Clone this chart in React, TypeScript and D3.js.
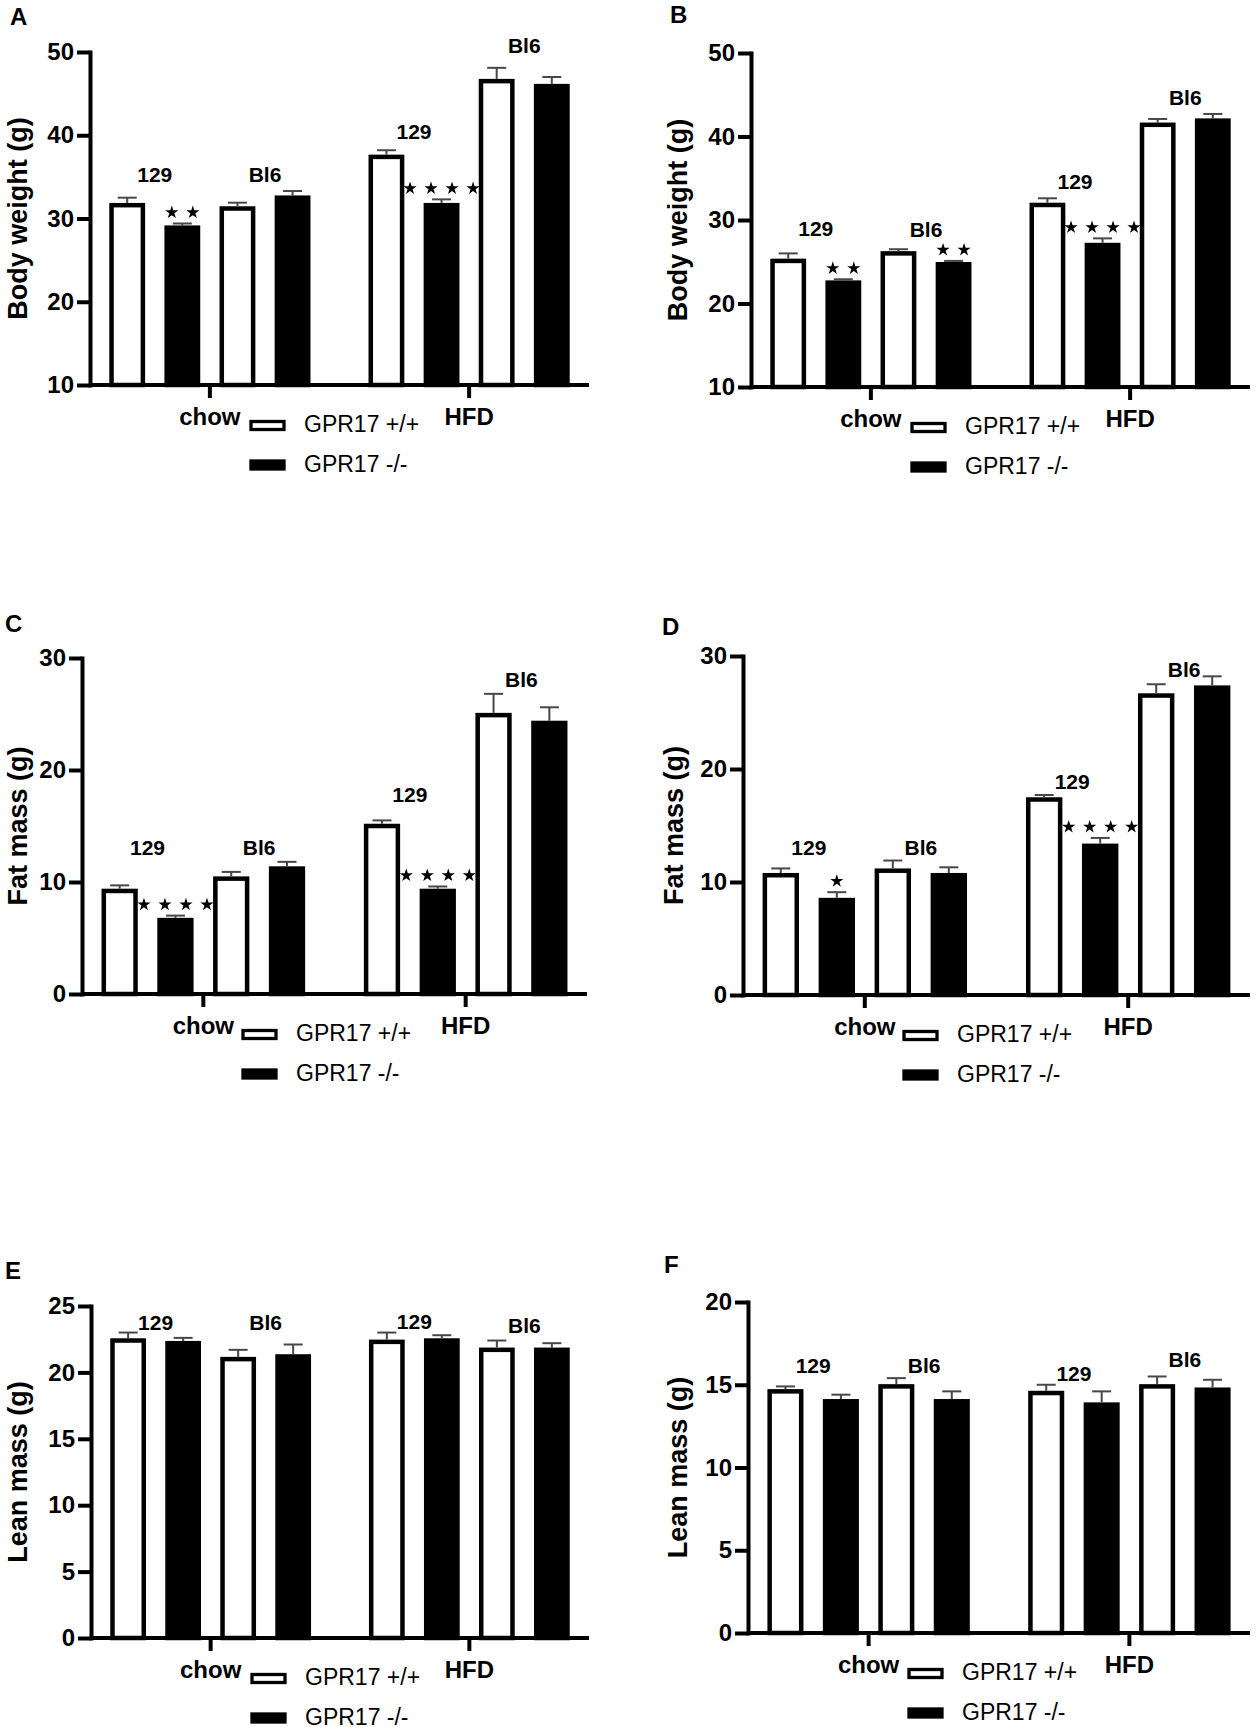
import React, { useRef, useEffect } from "react";
import * as d3 from "d3";

const groups = ["chow", "HFD"];
const strains = ["129", "Bl6"];
const genotypes = ["GPR17 +/+", "GPR17 -/-"];

// order of every value array: chow-129, chow-Bl6, HFD-129, HFD-Bl6
const bodyWeightA_WT = [31.6, 31.2, 37.4, 46.5];
const bodyWeightA_WTsem = [0.9, 0.7, 0.8, 1.6];
const bodyWeightA_KO = [28.9, 32.5, 31.6, 45.9];
const bodyWeightA_KOsem = [0.5, 0.8, 0.7, 1.1];
const bodyWeightA_stars = [2, 0, 4, 0];
const bodyWeightA_labelY = [34.4, 34.4, 39.6, 49.9];

const bodyWeightB_WT = [25.1, 26.0, 31.8, 41.4];
const bodyWeightB_WTsem = [0.9, 0.5, 0.8, 0.7];
const bodyWeightB_KO = [22.5, 24.7, 27.0, 41.9];
const bodyWeightB_KOsem = [0.4, 0.4, 0.8, 0.8];
const bodyWeightB_stars = [2, 2, 4, 0];
const bodyWeightB_labelY = [28.1, 28.0, 33.7, 43.8];

const fatMassC_WT = [9.2, 10.3, 15.0, 24.9];
const fatMassC_WTsem = [0.5, 0.6, 0.5, 1.9];
const fatMassC_KO = [6.6, 11.2, 9.2, 24.2];
const fatMassC_KOsem = [0.4, 0.6, 0.4, 1.4];
const fatMassC_stars = [4, 0, 4, 0];
const fatMassC_labelY = [12.4, 12.4, 17.1, 27.4];

const fatMassD_WT = [10.6, 11.0, 17.3, 26.5];
const fatMassD_WTsem = [0.6, 0.9, 0.4, 1.0];
const fatMassD_KO = [8.4, 10.6, 13.2, 27.2];
const fatMassD_KOsem = [0.7, 0.7, 0.7, 1.0];
const fatMassD_stars = [1, 0, 4, 0];
const fatMassD_labelY = [12.4, 12.4, 18.2, 28.1];

const leanMassE_WT = [22.4, 21.0, 22.3, 21.7];
const leanMassE_WTsem = [0.6, 0.7, 0.7, 0.7];
const leanMassE_KO = [22.2, 21.2, 22.4, 21.7];
const leanMassE_KOsem = [0.4, 0.9, 0.4, 0.5];
const leanMassE_stars = [0, 0, 0, 0];
const leanMassE_labelY = [23.2, 23.2, 23.3, 23.0];

const leanMassF_WT = [14.6, 14.9, 14.5, 14.9];
const leanMassF_WTsem = [0.3, 0.5, 0.5, 0.6];
const leanMassF_KO = [14.0, 14.0, 13.8, 14.7];
const leanMassF_KOsem = [0.4, 0.6, 0.8, 0.6];
const leanMassF_stars = [0, 0, 0, 0];
const leanMassF_labelY = [15.7, 15.7, 15.2, 16.1];

const ticksBody = [10, 20, 30, 40, 50];
const ticksFat = [0, 10, 20, 30];
const ticksLeanE = [0, 5, 10, 15, 20, 25];
const ticksLeanF = [0, 5, 10, 15, 20];

interface PanelData {
    letter: string;
    title: string;
    ticks: number[];
    wt: number[];
    wtSem: number[];
    ko: number[];
    koSem: number[];
    stars: number[];
    labelY: number[];
}

const panels: PanelData[] = [
    { letter: "A", title: "Body weight (g)", ticks: ticksBody, wt: bodyWeightA_WT, wtSem: bodyWeightA_WTsem, ko: bodyWeightA_KO, koSem: bodyWeightA_KOsem, stars: bodyWeightA_stars, labelY: bodyWeightA_labelY },
    { letter: "B", title: "Body weight (g)", ticks: ticksBody, wt: bodyWeightB_WT, wtSem: bodyWeightB_WTsem, ko: bodyWeightB_KO, koSem: bodyWeightB_KOsem, stars: bodyWeightB_stars, labelY: bodyWeightB_labelY },
    { letter: "C", title: "Fat mass (g)", ticks: ticksFat, wt: fatMassC_WT, wtSem: fatMassC_WTsem, ko: fatMassC_KO, koSem: fatMassC_KOsem, stars: fatMassC_stars, labelY: fatMassC_labelY },
    { letter: "D", title: "Fat mass (g)", ticks: ticksFat, wt: fatMassD_WT, wtSem: fatMassD_WTsem, ko: fatMassD_KO, koSem: fatMassD_KOsem, stars: fatMassD_stars, labelY: fatMassD_labelY },
    { letter: "E", title: "Lean mass (g)", ticks: ticksLeanE, wt: leanMassE_WT, wtSem: leanMassE_WTsem, ko: leanMassE_KO, koSem: leanMassE_KOsem, stars: leanMassE_stars, labelY: leanMassE_labelY },
    { letter: "F", title: "Lean mass (g)", ticks: ticksLeanF, wt: leanMassF_WT, wtSem: leanMassF_WTsem, ko: leanMassF_KO, koSem: leanMassF_KOsem, stars: leanMassF_stars, labelY: leanMassF_labelY },
];

// page layout of each panel (pixels)
const layouts = [
    { axisX: 90, xEnd: 589, top: 52, bottom: 385, titleX: 18, letterX: 10, letterY: 25 },
    { axisX: 751, xEnd: 1250, top: 53, bottom: 387, titleX: 678, letterX: 670, letterY: 23 },
    { axisX: 82, xEnd: 587, top: 658, bottom: 994, titleX: 18, letterX: 5, letterY: 632 },
    { axisX: 743, xEnd: 1250, top: 656, bottom: 995, titleX: 674, letterX: 662, letterY: 635 },
    { axisX: 91, xEnd: 589, top: 1306, bottom: 1638, titleX: 18, letterX: 5, letterY: 1279 },
    { axisX: 748, xEnd: 1250, top: 1302, bottom: 1633, titleX: 678, letterX: 664, letterY: 1273 },
];

const FONT = "'Liberation Sans', Arial, Helvetica, sans-serif";
const AXIS_W = 4;
const BAR_STROKE = 4.5;

interface BarRow {
    group: string;
    key: string;
    geno: number;
    mean: number;
    sem: number;
    stars: number;
}

export default function App() {
    const ref = useRef<SVGSVGElement | null>(null);

    useEffect(() => {
        const svg = d3.select(ref.current);
        svg.selectAll("*").remove();

        const barKeys = strains.flatMap((s) => genotypes.map((g) => `${s}|${g}`));

        panels.forEach((p, pi) => {
            const L = layouts[pi];
            const root = svg.append("g");

            const y = d3
                .scaleLinear()
                .domain([p.ticks[0], p.ticks[p.ticks.length - 1]])
                .range([L.bottom, L.top]);
            const x0 = d3
                .scaleBand()
                .domain(groups)
                .range([L.axisX, L.xEnd])
                .paddingInner(0.075)
                .paddingOuter(0);
            const x1 = d3
                .scaleBand()
                .domain(barKeys)
                .range([0, x0.bandwidth()])
                .padding(0.35);

            const rows: BarRow[] = [];
            groups.forEach((g, gi) => {
                strains.forEach((s, si) => {
                    const idx = gi * 2 + si;
                    rows.push({ group: g, key: `${s}|${genotypes[0]}`, geno: 0, mean: p.wt[idx], sem: p.wtSem[idx], stars: 0 });
                    rows.push({ group: g, key: `${s}|${genotypes[1]}`, geno: 1, mean: p.ko[idx], sem: p.koSem[idx], stars: p.stars[idx] });
                });
            });

            const cx = (r: BarRow) => (x0(r.group) ?? 0) + (x1(r.key) ?? 0) + x1.bandwidth() / 2;

            // bars
            root
                .selectAll("rect.bar")
                .data(rows)
                .enter()
                .append("rect")
                .attr("class", "bar")
                .attr("x", (d) => (x0(d.group) ?? 0) + (x1(d.key) ?? 0) + BAR_STROKE / 2)
                .attr("width", x1.bandwidth() - BAR_STROKE)
                .attr("y", (d) => y(d.mean))
                .attr("height", (d) => y(p.ticks[0]) - y(d.mean))
                .attr("fill", (d) => (d.geno === 0 ? "#ffffff" : "#000000"))
                .attr("stroke", "#000")
                .attr("stroke-width", BAR_STROKE);

            // error bars (upper only)
            const eb = root
                .selectAll("g.err")
                .data(rows)
                .enter()
                .append("g")
                .attr("class", "err")
                .attr("stroke", "#474747")
                .attr("stroke-width", 2);
            eb.append("line")
                .attr("x1", cx)
                .attr("x2", cx)
                .attr("y1", (d) => y(d.mean) - BAR_STROKE / 2)
                .attr("y2", (d) => y(d.mean + d.sem));
            eb.append("line")
                .attr("x1", (d) => cx(d) - 9.5)
                .attr("x2", (d) => cx(d) + 9.5)
                .attr("y1", (d) => y(d.mean + d.sem))
                .attr("y2", (d) => y(d.mean + d.sem));

            // significance stars
            const star = d3.symbol().type(d3.symbolStar).size(54);
            rows.filter((r) => r.stars > 0).forEach((r) => {
                d3.range(r.stars).forEach((i) => {
                    root.append("path")
                        .attr("d", star() as string)
                        .attr("fill", "#000")
                        .attr(
                            "transform",
                            `translate(${cx(r) + (i - (r.stars - 1) / 2) * 21},${y(r.mean + r.sem) - 11})`
                        );
                });
            });

            // strain labels
            groups.forEach((g, gi) => {
                strains.forEach((s, si) => {
                    const a = (x0(g) ?? 0) + (x1(`${s}|${genotypes[0]}`) ?? 0) + x1.bandwidth() / 2;
                    const b = (x0(g) ?? 0) + (x1(`${s}|${genotypes[1]}`) ?? 0) + x1.bandwidth() / 2;
                    root.append("text")
                        .attr("x", (a + b) / 2)
                        .attr("y", y(p.labelY[gi * 2 + si]))
                        .attr("text-anchor", "middle")
                        .attr("font-family", FONT)
                        .attr("font-weight", "bold")
                        .attr("font-size", 21)
                        .text(s);
                });
            });

            // y axis
            const yAxis = root
                .append("g")
                .attr("transform", `translate(${L.axisX},0)`)
                .call(d3.axisLeft(y).tickValues(p.ticks).tickSize(13).tickSizeOuter(0).tickPadding(3));
            yAxis.select(".domain").attr("stroke-width", AXIS_W).attr("stroke-linecap", "square");
            yAxis.selectAll(".tick line").attr("stroke-width", AXIS_W);
            yAxis
                .selectAll(".tick text")
                .attr("font-family", FONT)
                .attr("font-weight", "bold")
                .attr("font-size", 24)
                .attr("fill", "#000");

            // x axis line and category ticks
            root.append("line")
                .attr("x1", L.axisX)
                .attr("x2", L.xEnd)
                .attr("y1", L.bottom)
                .attr("y2", L.bottom)
                .attr("stroke", "#000")
                .attr("stroke-width", AXIS_W);
            groups.forEach((g) => {
                const gx = (x0(g) ?? 0) + x0.bandwidth() / 2;
                root.append("line")
                    .attr("x1", gx)
                    .attr("x2", gx)
                    .attr("y1", L.bottom)
                    .attr("y2", L.bottom + 13)
                    .attr("stroke", "#000")
                    .attr("stroke-width", AXIS_W);
                root.append("text")
                    .attr("x", gx)
                    .attr("y", L.bottom + 40)
                    .attr("text-anchor", "middle")
                    .attr("font-family", FONT)
                    .attr("font-weight", "bold")
                    .attr("font-size", 24)
                    .text(g);
            });

            // legend
            genotypes.forEach((gname, gi) => {
                root.append("rect")
                    .attr("x", L.axisX + 161)
                    .attr("y", L.bottom + 36.5 + gi * 39.5)
                    .attr("width", 33)
                    .attr("height", 8)
                    .attr("fill", gi === 0 ? "#fff" : "#000")
                    .attr("stroke", "#000")
                    .attr("stroke-width", 3.3);
                root.append("text")
                    .attr("x", L.axisX + 214)
                    .attr("y", L.bottom + 47 + gi * 39.5)
                    .attr("font-family", FONT)
                    .attr("font-size", 23)
                    .text(gname);
            });

            // y title
            root.append("text")
                .attr("transform", `translate(${L.titleX + 9},${(L.top + L.bottom) / 2}) rotate(-90)`)
                .attr("text-anchor", "middle")
                .attr("font-family", FONT)
                .attr("font-weight", "bold")
                .attr("font-size", 27)
                .text(p.title);

            // panel letter
            root.append("text")
                .attr("x", L.letterX)
                .attr("y", L.letterY)
                .attr("font-family", FONT)
                .attr("font-weight", "bold")
                .attr("font-size", 24)
                .text(p.letter);
        });
    }, []);

    return (
        <svg
            ref={ref}
            width={1256}
            height={1727}
            style={{ position: "absolute", left: 0, top: 0, background: "#fff" }}
        ></svg>
    );
}
